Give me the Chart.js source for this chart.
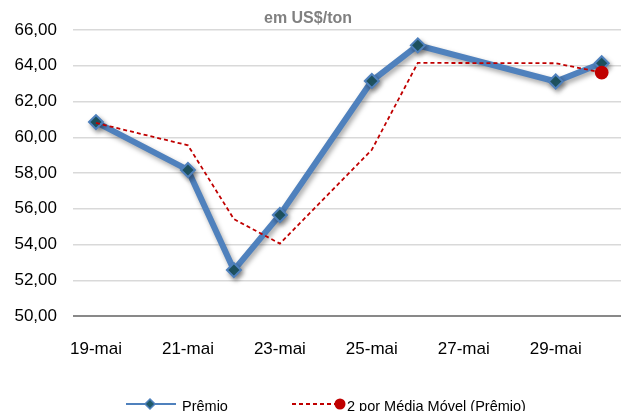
<!DOCTYPE html>
<html>
<head>
<meta charset="utf-8">
<script src="https://cdn.jsdelivr.net/npm/chart.js@4"></script>
<style>
    html, body { margin: 0; padding: 0; background: #fff; }
    #chart { display: block; }
</style>
</head>
<body>
<canvas id="chart" width="621" height="411"></canvas>
<script>
// ================= DATA =================
const days = [19, 21, 22, 23, 25, 26, 29, 30];           // dia de maio
const premio = [60.85, 58.17, 52.57, 55.65, 63.15, 65.14, 63.12, 64.14];
const mediaMovel = [60.80, 59.55, 55.42, 54.05, 59.30, 64.16, 64.14, 63.62];
const tickDays = [19, 21, 23, 25, 27, 29];
const yTicks = [50, 52, 54, 56, 58, 60, 62, 64, 66];

const subtitle = "em US$/ton";
const premioLabel = "Prêmio";
const mediaLabel = "2 por Média Móvel (Prêmio)";

const FONT = "'Liberation Sans', Arial, sans-serif";
const BLUE = "#4f81bd";
const MARKER = "#215a69";
const RED = "#c00000";

function toPoints(values) {
    return days.map((d, i) => ({ x: d, y: values[i] }));
}

// ================= PLUGINS =================
const lineShadow = {
    id: "lineShadow",
    beforeDatasetDraw(chart, args) {
        if (args.index !== 0) return;
        const ctx = chart.ctx;
        ctx.save();
        ctx.shadowColor = "rgba(0,0,0,0.35)";
        ctx.shadowBlur = 5;
        ctx.shadowOffsetX = 2;
        ctx.shadowOffsetY = 3;
    },
    afterDatasetDraw(chart, args) {
        if (args.index !== 0) return;
        chart.ctx.restore();
    }
};

const decorations = {
    id: "decorations",
    afterDraw(chart) {
        const ctx = chart.ctx;
        ctx.save();

        // subtitle
        ctx.fillStyle = "#808080";
        ctx.font = "bold 16px " + FONT;
        ctx.textAlign = "center";
        ctx.textBaseline = "middle";
        ctx.fillText(subtitle, 308, 19);

        // legend: Prêmio
        const ly = 404;
        ctx.strokeStyle = BLUE;
        ctx.lineWidth = 2;
        ctx.beginPath();
        ctx.moveTo(126, ly);
        ctx.lineTo(176, ly);
        ctx.stroke();
        ctx.fillStyle = MARKER;
        ctx.strokeStyle = BLUE;
        ctx.lineWidth = 1.5;
        ctx.beginPath();
        ctx.moveTo(150, ly - 5);
        ctx.lineTo(155, ly);
        ctx.lineTo(150, ly + 5);
        ctx.lineTo(145, ly);
        ctx.closePath();
        ctx.fill();
        ctx.stroke();

        // legend: média móvel
        ctx.strokeStyle = RED;
        ctx.lineWidth = 1.8;
        ctx.setLineDash([4, 3]);
        ctx.beginPath();
        ctx.moveTo(292, ly);
        ctx.lineTo(338, ly);
        ctx.stroke();
        ctx.setLineDash([]);
        ctx.fillStyle = RED;
        ctx.beginPath();
        ctx.arc(340, ly, 5.5, 0, Math.PI * 2);
        ctx.fill();

        ctx.fillStyle = "#000";
        ctx.font = "14.5px " + FONT;
        ctx.textAlign = "left";
        ctx.textBaseline = "alphabetic";
        ctx.fillText(premioLabel, 182, 411);
        ctx.fillText(mediaLabel, 347, 411);

        ctx.restore();
    }
};

// ================= CHART =================
const ctx = document.getElementById("chart").getContext("2d");

new Chart(ctx, {
    type: "line",
    data: {
        datasets: [
            {
                label: premioLabel,
                data: toPoints(premio),
                borderColor: BLUE,
                borderWidth: 6,
                tension: 0,
                pointStyle: "rectRot",
                pointRadius: 7,
                pointBackgroundColor: MARKER,
                pointBorderColor: BLUE,
                pointBorderWidth: 2,
                order: 2
            },
            {
                label: mediaLabel,
                data: toPoints(mediaMovel),
                borderColor: RED,
                borderWidth: 1.8,
                borderDash: [4, 3],
                tension: 0,
                pointRadius: c => (c.dataIndex === days.length - 1 ? 6 : 0),
                pointBackgroundColor: RED,
                pointBorderColor: RED,
                order: 1
            }
        ]
    },
    options: {
        responsive: false,
        animation: false,
        devicePixelRatio: 1,
        layout: {
            autoPadding: false,
            padding: { top: 30, right: 0, left: 0, bottom: 0 }
        },
        plugins: {
            legend: { display: false },
            tooltip: { enabled: false }
        },
        scales: {
            x: {
                type: "linear",
                min: 18.5,
                max: 30.42,
                grid: { display: false },
                border: { display: false },
                afterBuildTicks: scale => {
                    scale.ticks = tickDays.map(v => ({ value: v }));
                },
                afterFit: scale => { scale.height = 95; },
                ticks: {
                    autoSkip: false,
                    maxRotation: 0,
                    padding: 15,
                    color: "#000",
                    font: { family: FONT, size: 17 },
                    callback: v => v + "-mai"
                }
            },
            y: {
                min: 50,
                max: 66,
                afterBuildTicks: scale => {
                    scale.ticks = yTicks.map(v => ({ value: v }));
                },
                afterFit: scale => { scale.width = 73; },
                border: { display: false },
                grid: {
                    drawTicks: false,
                    color: c => (c.tick && c.tick.value === 50 ? "#898989" : "#d9d9d9"),
                    lineWidth: c => (c.tick && c.tick.value === 50 ? 2 : 1.5)
                },
                ticks: {
                    padding: 16,
                    color: "#000",
                    font: { family: FONT, size: 17 },
                    callback: v => v.toFixed(2).replace(".", ",")
                }
            }
        }
    },
    plugins: [lineShadow, decorations]
});
</script>
</body>
</html>
